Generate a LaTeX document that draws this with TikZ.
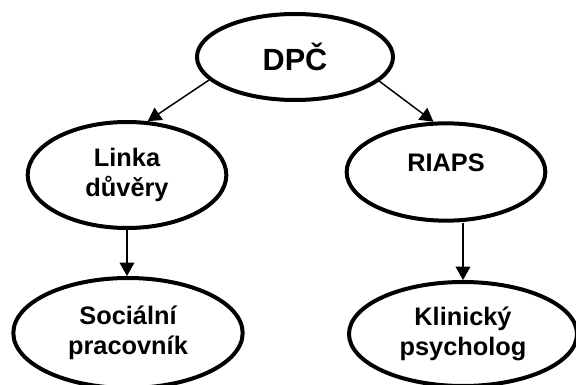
\documentclass[tikz,border=0pt]{standalone}
\usepackage{fontspec}
\setmainfont{Liberation Sans}
\usetikzlibrary{shapes.geometric}
\usetikzlibrary{arrows.meta}

\begin{document}
\begin{tikzpicture}[x=0.75pt,y=-0.75pt,
  bubble/.style={draw,ellipse,line width=3pt,inner sep=0pt,align=center,
    font=\bfseries\fontsize{19}{22.5}\selectfont},
  link/.style={-{Triangle[width=11pt,length=10pt]},line width=1.1pt}]
 \useasboundingbox (0,0) rectangle (576,385);
 % ellipses
 \node[bubble,minimum width=147pt,minimum height=64.5pt,
   font=\bfseries\fontsize{23}{27}\selectfont](dpc) at (295,57) {DPČ};
 \node[bubble,minimum width=149pt,minimum height=79.5pt](linka) at (127,175) {Linka\\důvěry};
 \node[bubble,minimum width=149pt,minimum height=73pt,text depth=13.5pt](riaps) at (446,172) {RIAPS};
 \node[bubble,minimum width=172pt,minimum height=82.5pt](soc) at (128,333) {Sociální\\pracovník};
 \node[bubble,minimum width=171pt,minimum height=78pt](klin) at (463,334) {Klinický\\psycholog};
 % arrows
 \draw[link] (dpc.195) -- (linka.69);
 \draw[link] (dpc.344) -- (riaps.104);
 \draw[link] (linka.south) -- (linka.south |- soc.north);
 \draw[link] (riaps.south -| klin.north) -- (klin.north);
\end{tikzpicture}
\end{document}
